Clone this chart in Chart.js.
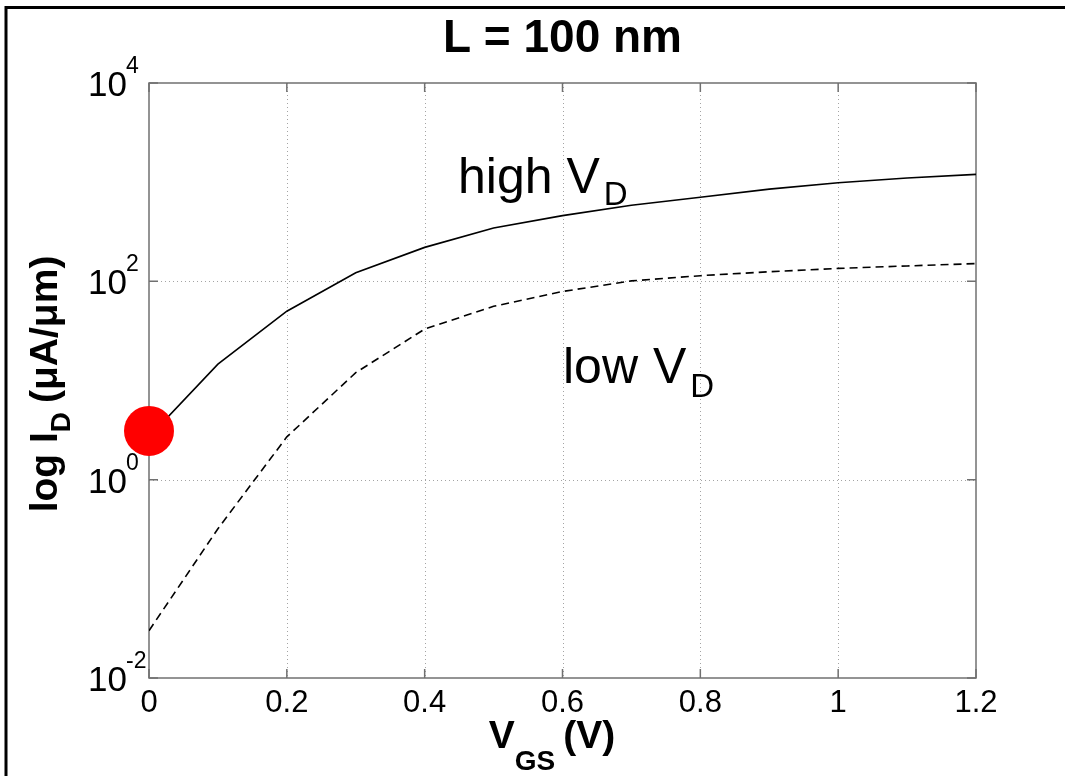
<!DOCTYPE html>
<html>
<head>
<meta charset="utf-8">
<title>L = 100 nm</title>
<script src="https://cdn.jsdelivr.net/npm/chart.js@4.4.1/dist/chart.umd.min.js"></script>
<style>
  html, body { margin: 0; padding: 0; background: #fff; overflow: hidden; }
  canvas { display: block; }
</style>
</head>
<body>
<canvas id="chart" width="1065" height="776"></canvas>
<script>
// Gate voltage sweep (V)
const vgs = [0, 0.1, 0.2, 0.3, 0.4, 0.5, 0.6, 0.7, 0.8, 0.9, 1.0, 1.1, 1.2];
// Drain current (uA/um) at high drain bias
const idHighVd = [2.7, 14.6, 50, 122, 220, 345, 460, 585, 705, 850, 985, 1100, 1197];
// Drain current (uA/um) at low drain bias
const idLowVd = [0.030, 0.32, 2.7, 12.0, 33, 56, 79, 101, 114, 125, 135, 143, 151];
// Highlighted off-state point
const markerVgs = [0];
const markerId = [3.1];
// Axis ticks
const xTicks = [0, 0.2, 0.4, 0.6, 0.8, 1, 1.2];
const xTickLabels = ['0', '0.2', '0.4', '0.6', '0.8', '1', '1.2'];
const yTickExponents = [-2, 0, 2, 4];
const yTickLabels = ['-2', '0', '2', '4'];

const FONT = "'Liberation Sans', Arial, Helvetica, sans-serif";

function font(size, bold) {
  return (bold ? 'bold ' : '') + size + 'px ' + FONT;
}

// Width of a run of text pieces (with sub/superscripts)
function runWidth(ctx, runs) {
  let w = 0;
  for (const r of runs) { ctx.font = font(r.size, r.bold); w += ctx.measureText(r.text).width + (r.gap || 0); }
  return w;
}
// Draw a run of text pieces left to right starting at x
function drawRuns(ctx, runs, x, y) {
  let cx = x;
  for (const r of runs) {
    cx += (r.gap || 0);
    ctx.font = font(r.size, r.bold);
    ctx.fillText(r.text, cx, y + (r.dy || 0));
    cx += ctx.measureText(r.text).width;
  }
}

const axesPlugin = {
  id: 'matlabAxes',
  beforeDatasetsDraw(chart) {
    const { ctx, chartArea: a, scales: { x, y } } = chart;
    ctx.save();

    // outer frame (top and left edges)
    ctx.strokeStyle = '#000';
    ctx.lineWidth = 3;
    ctx.beginPath();
    ctx.moveTo(6, 776); ctx.lineTo(6, 7.5); ctx.lineTo(1065, 7.5);
    ctx.stroke();

    // dotted grid
    ctx.strokeStyle = '#a4a4a4';
    ctx.lineWidth = 1;
    ctx.setLineDash([1, 3]);
    xTicks.forEach(v => {
      if (v <= x.min || v >= x.max) return;
      const px = Math.round(x.getPixelForValue(v)) + 0.5;
      ctx.beginPath(); ctx.moveTo(px, a.top); ctx.lineTo(px, a.bottom); ctx.stroke();
    });
    yTickExponents.forEach(e => {
      const v = Math.pow(10, e);
      if (v <= y.min || v >= y.max) return;
      const py = Math.round(y.getPixelForValue(v)) + 0.5;
      ctx.beginPath(); ctx.moveTo(a.left, py); ctx.lineTo(a.right, py); ctx.stroke();
    });
    ctx.setLineDash([]);

    // axes box with inward ticks
    ctx.strokeStyle = '#707070';
    ctx.lineWidth = 1.5;
    ctx.strokeRect(a.left, a.top, a.right - a.left, a.bottom - a.top);
    const tl = 9;
    ctx.beginPath();
    xTicks.forEach(v => {
      const px = x.getPixelForValue(v);
      ctx.moveTo(px, a.bottom); ctx.lineTo(px, a.bottom - tl);
      ctx.moveTo(px, a.top); ctx.lineTo(px, a.top + tl);
    });
    yTickExponents.forEach(e => {
      const py = y.getPixelForValue(Math.pow(10, e));
      ctx.moveTo(a.left, py); ctx.lineTo(a.left + tl, py);
      ctx.moveTo(a.right, py); ctx.lineTo(a.right - tl, py);
    });
    ctx.stroke();

    ctx.fillStyle = '#000';
    ctx.textBaseline = 'alphabetic';

    // x tick labels
    ctx.font = font(31, false);
    ctx.textAlign = 'center';
    xTicks.forEach((v, i) => {
      ctx.fillText(xTickLabels[i], x.getPixelForValue(v), a.bottom + 34);
    });

    // y tick labels: 10 with raised exponent
    yTickExponents.forEach((e, i) => {
      const py = y.getPixelForValue(Math.pow(10, e));
      ctx.textAlign = 'right';
      ctx.font = font(35, false);
      ctx.fillText('10', a.left - 22, py + 13);
      ctx.textAlign = 'left';
      ctx.font = font(23, false);
      ctx.fillText(yTickLabels[i], a.left - 23, py - 10);
    });

    // title
    ctx.textAlign = 'center';
    ctx.font = font(46, true);
    ctx.fillText('L = 100 nm', (a.left + a.right) / 2, 52);

    // x axis title
    ctx.textAlign = 'left';
    const xRuns = [
      { text: 'V', size: 39, bold: true },
      { text: 'GS', size: 28, bold: true, dy: 22 },
      { text: '(V)', size: 39, bold: true, gap: 8 }
    ];
    const xw = runWidth(ctx, xRuns);
    drawRuns(ctx, xRuns, 552 - xw / 2, 748);

    // y axis title (rotated)
    const yRuns = [
      { text: 'log I', size: 39, bold: true },
      { text: 'D', size: 28, bold: true, dy: 13 },
      { text: '(\u03bcA/\u03bcm)', size: 39, bold: true, gap: 9 }
    ];
    ctx.save();
    ctx.translate(57, 384);
    ctx.rotate(-Math.PI / 2);
    const yw = runWidth(ctx, yRuns);
    drawRuns(ctx, yRuns, -yw / 2, 0);
    ctx.restore();

    // curve annotations
    drawRuns(ctx, [
      { text: 'high ', size: 50 },
      { text: 'V', size: 50 },
      { text: 'D', size: 33, dy: 12, gap: 4 }
    ], 458, 193);
    drawRuns(ctx, [
      { text: 'low ', size: 50 },
      { text: 'V', size: 50, gap: 1 },
      { text: 'D', size: 33, dy: 14, gap: 4 }
    ], 563, 383);

    ctx.restore();
  }
};

const toPoints = (xs, ys) => xs.map((v, i) => ({ x: v, y: ys[i] }));

new Chart(document.getElementById('chart'), {
  type: 'line',
  data: {
    datasets: [
      {
        label: 'off-state point',
        data: toPoints(markerVgs, markerId),
        showLine: false,
        pointRadius: 25,
        pointHoverRadius: 25,
        pointBackgroundColor: '#ff0000',
        pointBorderWidth: 0,
        borderColor: '#ff0000',
        clip: false,
        order: 0
      },
      {
        label: 'high VD',
        data: toPoints(vgs, idHighVd),
        borderColor: '#000',
        borderWidth: 1.6,
        pointRadius: 0,
        tension: 0,
        fill: false,
        order: 1
      },
      {
        label: 'low VD',
        data: toPoints(vgs, idLowVd),
        borderColor: '#000',
        borderWidth: 1.6,
        borderDash: [8, 5],
        pointRadius: 0,
        tension: 0,
        fill: false,
        order: 2
      }
    ]
  },
  options: {
    responsive: false,
    devicePixelRatio: 1,
    animation: false,
    events: [],
    layout: { padding: { left: 149, right: 89, top: 83, bottom: 98 } },
    plugins: { legend: { display: false }, title: { display: false }, tooltip: { enabled: false } },
    scales: {
      x: { type: 'linear', min: 0, max: 1.2, display: false },
      y: { type: 'logarithmic', min: 0.01, max: 10000, display: false }
    }
  },
  plugins: [axesPlugin]
});
</script>
</body>
</html>
